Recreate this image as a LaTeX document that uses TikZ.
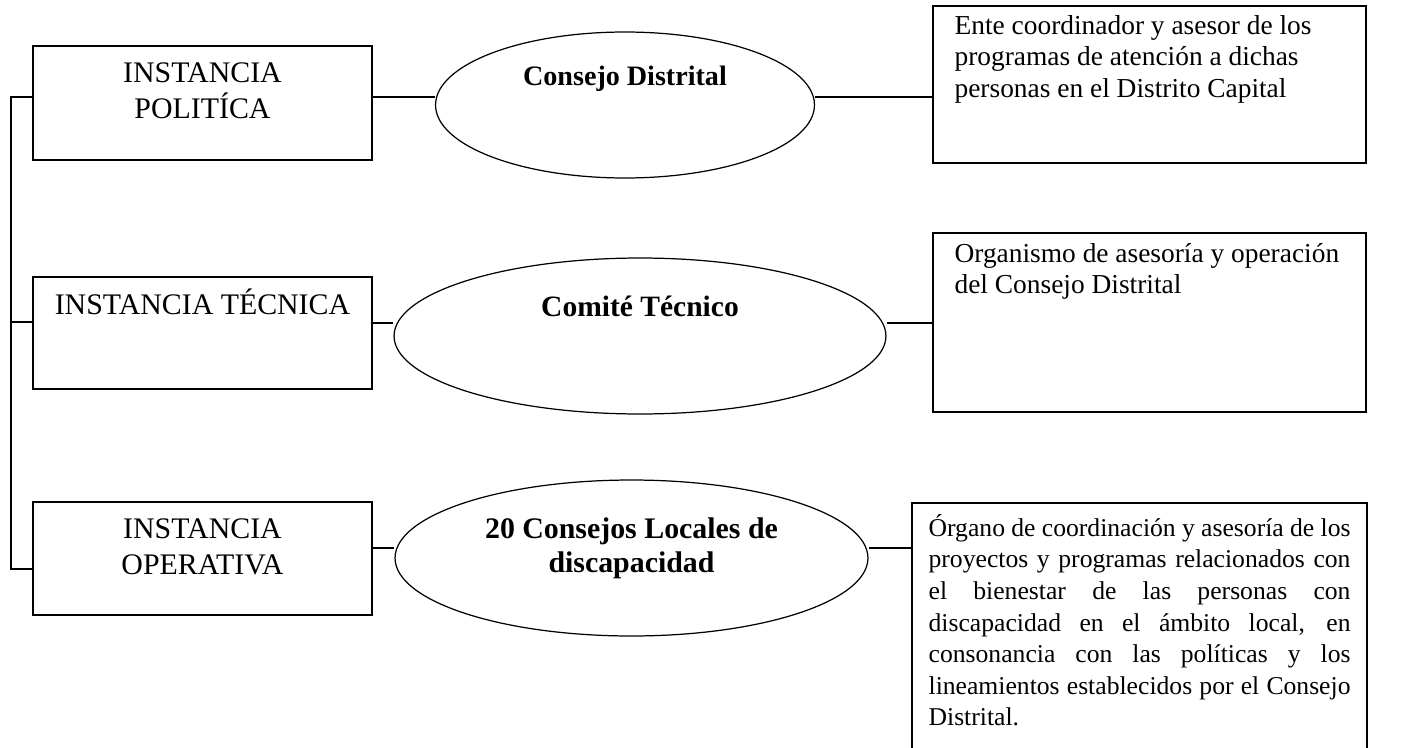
\documentclass[tikz,border=0pt]{standalone}
\usepackage{fontspec}
\setmainfont{Liberation Serif}
\usetikzlibrary{shapes.geometric}

\newcommand{\jline}[1]{\makebox[\hsize][s]{#1}}

\tikzset{
  caja/.style={draw, line width=0.9pt, inner sep=0pt},
  elipse/.style={draw, ellipse, line width=0.7pt, inner sep=0pt},
  linea/.style={line width=0.7pt},
  rotulo/.style={anchor=base, align=flush center, text width=6.6cm, inner sep=0pt, font=\fontsize{17}{20.5}\selectfont},
  negrita/.style={anchor=base, align=flush center, text width=8.5cm, inner sep=0pt, font=\fontsize{16}{19.5}\selectfont\bfseries},
  texto/.style={anchor=base west, align=flush left, inner sep=0pt, font=\fontsize{15.6}{18}\selectfont},
}

\begin{document}
\begin{tikzpicture}
\begin{scope}[x=0.02cm,y=-0.02cm]
\useasboundingbox (0,0) rectangle (1416,747);
\clip (0,0) rectangle (1416,747);

% instancias
\node[caja, minimum width=6.78cm, minimum height=2.28cm] (pol) at (202.5,103) {};
\node[caja, minimum width=6.78cm, minimum height=2.24cm] (tec) at (202.5,333) {};
\node[caja, minimum width=6.78cm, minimum height=2.26cm] (ope) at (202.5,558.5) {};
\node[rotulo] (pol-t) at ([shift={(0,37)}]pol.north) {INSTANCIA\\POLITÍCA};
\node[rotulo] (tec-t) at ([shift={(0,38)}]tec.north) {INSTANCIA TÉCNICA};
\node[rotulo] (ope-t) at ([shift={(0,37)}]ope.north) {INSTANCIA\\OPERATIVA};

% organos
\node[elipse, minimum width=7.58cm, minimum height=2.92cm] (cd) at (625,105) {};
\node[elipse, minimum width=9.84cm, minimum height=3.12cm] (ct) at (640,336) {};
\node[elipse, minimum width=9.46cm, minimum height=3.12cm] (cl) at (631.5,558) {};
\node[negrita] (cd-t) at ([shift={(0,-20)}]cd.center) {Consejo Distrital};
\node[negrita, font=\fontsize{16.8}{19.5}\selectfont\bfseries] (ct-t) at ([shift={(0,-20)}]ct.center) {Comité Técnico};
\node[negrita, font=\fontsize{17}{19.5}\selectfont\bfseries] (cl-t) at ([shift={(0,-20)}]cl.center) {20 Consejos Locales de\\discapacidad};

% funciones
\node[caja, minimum width=8.66cm, minimum height=3.14cm] (d1) at (1149.5,84.5) {};
\node[caja, minimum width=8.66cm, minimum height=3.58cm] (d2) at (1149.5,322.5) {};
\node[caja, minimum width=9.1cm, minimum height=5.94cm] (d3) at (1139.5,651.5) {};
\node[texto, text width=8cm] (d1-t) at ([shift={(22,29)}]d1.north west)
  {Ente coordinador y asesor de los\\programas de atención a dichas\\personas en el Distrito Capital};
\node[texto, text width=8cm] (d2-t) at ([shift={(22,30)}]d2.north west)
  {Organismo de asesoría y operación\\del Consejo Distrital};
\node[texto, text width=8.44cm, font=\fontsize{14.6}{18}\selectfont] (d3-t) at ([shift={(17,34)}]d3.north west)
  {\jline{Órgano de coordinación y asesoría de los}\\
   \jline{proyectos y programas relacionados con}\\
   \jline{el bienestar de las personas con}\\
   \jline{discapacidad en el ámbito local, en}\\
   \jline{consonancia con las políticas y los}\\
   \jline{lineamientos establecidos por el Consejo}\\
   Distrital.};

% conexiones
\coordinate (f1) at (0,97);
\coordinate (f2) at (0,323);
\coordinate (f3) at (0,548);
\draw[linea] (pol.east |- f1) -- (cd.west |- f1);
\draw[linea] (cd.east |- f1) -- (d1.west |- f1);
\draw[linea] (tec.east |- f2) -- (ct.west |- f2);
\draw[linea] (ct.east |- f2) -- (d2.west |- f2);
\draw[linea] (ope.east |- f3) -- (cl.west |- f3);
\draw[linea] (cl.east |- f3) -- (d3.west |- f3);

% tronco
\coordinate (t1) at (11,97);
\coordinate (t2) at (11,322);
\coordinate (t3) at (11,569);
\draw[linea] (pol.west |- t1) -- (t1) -- (t3) -- (ope.west |- t3);
\draw[linea] (t2) -- (tec.west |- t2);

\end{scope}
\end{tikzpicture}
\end{document}
